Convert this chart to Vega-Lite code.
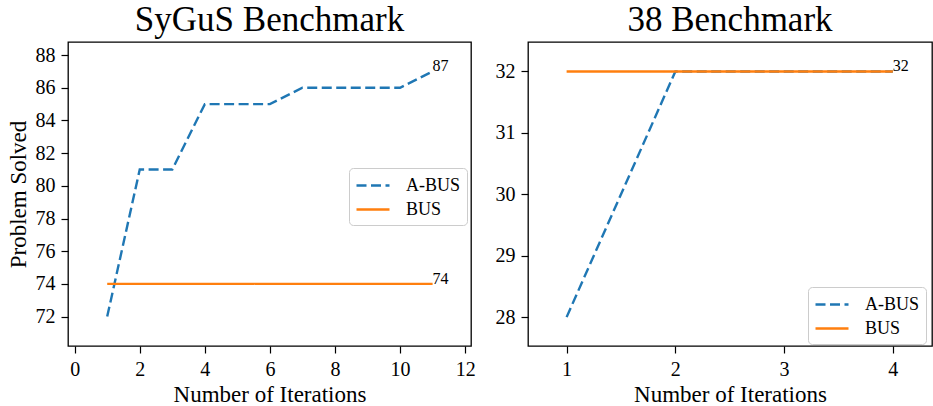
{
  "$schema": "https://vega.github.io/schema/vega-lite/v6.json",
  "padding": {"left": 6, "top": 2, "right": 1, "bottom": 0},
  "datasets": {
    "lines": [
      {"panel": "SyGuS", "method": "A-BUS", "iteration": 1, "solved": 72},
      {"panel": "SyGuS", "method": "A-BUS", "iteration": 2, "solved": 81},
      {"panel": "SyGuS", "method": "A-BUS", "iteration": 3, "solved": 81},
      {"panel": "SyGuS", "method": "A-BUS", "iteration": 4, "solved": 85},
      {"panel": "SyGuS", "method": "A-BUS", "iteration": 5, "solved": 85},
      {"panel": "SyGuS", "method": "A-BUS", "iteration": 6, "solved": 85},
      {"panel": "SyGuS", "method": "A-BUS", "iteration": 7, "solved": 86},
      {"panel": "SyGuS", "method": "A-BUS", "iteration": 8, "solved": 86},
      {"panel": "SyGuS", "method": "A-BUS", "iteration": 9, "solved": 86},
      {"panel": "SyGuS", "method": "A-BUS", "iteration": 10, "solved": 86},
      {"panel": "SyGuS", "method": "A-BUS", "iteration": 11, "solved": 87},
      {"panel": "SyGuS", "method": "BUS", "iteration": 1, "solved": 74},
      {"panel": "SyGuS", "method": "BUS", "iteration": 2, "solved": 74},
      {"panel": "SyGuS", "method": "BUS", "iteration": 3, "solved": 74},
      {"panel": "SyGuS", "method": "BUS", "iteration": 4, "solved": 74},
      {"panel": "SyGuS", "method": "BUS", "iteration": 5, "solved": 74},
      {"panel": "SyGuS", "method": "BUS", "iteration": 6, "solved": 74},
      {"panel": "SyGuS", "method": "BUS", "iteration": 7, "solved": 74},
      {"panel": "SyGuS", "method": "BUS", "iteration": 8, "solved": 74},
      {"panel": "SyGuS", "method": "BUS", "iteration": 9, "solved": 74},
      {"panel": "SyGuS", "method": "BUS", "iteration": 10, "solved": 74},
      {"panel": "SyGuS", "method": "BUS", "iteration": 11, "solved": 74},
      {"panel": "38", "method": "A-BUS", "iteration": 1, "solved": 28},
      {"panel": "38", "method": "A-BUS", "iteration": 2, "solved": 32},
      {"panel": "38", "method": "A-BUS", "iteration": 3, "solved": 32},
      {"panel": "38", "method": "A-BUS", "iteration": 4, "solved": 32},
      {"panel": "38", "method": "BUS", "iteration": 1, "solved": 32},
      {"panel": "38", "method": "BUS", "iteration": 2, "solved": 32},
      {"panel": "38", "method": "BUS", "iteration": 3, "solved": 32},
      {"panel": "38", "method": "BUS", "iteration": 4, "solved": 32}
    ],
    "labels": [
      {"panel": "SyGuS", "iteration": 11, "solved": 87, "label": "87"},
      {"panel": "SyGuS", "iteration": 11, "solved": 74, "label": "74"},
      {"panel": "38", "iteration": 4, "solved": 32, "label": "32"}
    ]
  },
  "config": {
    "font": "Liberation Serif",
    "view": {"stroke": "black", "strokeWidth": 1.3},
    "axis": {
      "grid": false, "domain": false,
      "tickColor": "black", "tickSize": 7, "tickWidth": 1.2,
      "labelFont": "Liberation Serif", "labelFontSize": 20, "labelColor": "black", "labelPadding": 6, "labelOverlap": false, "format": "d",
      "titleFont": "Liberation Serif", "titleFontSize": 23, "titleFontWeight": "normal", "titleColor": "black", "titlePadding": 4
    },
    "title": {"font": "Liberation Serif", "fontSize": 35, "fontWeight": "normal", "color": "black", "anchor": "middle", "frame": "group", "offset": 4},
    "legend": {
      "orient": "none", "strokeColor": "#cccccc", "fillColor": "white", "cornerRadius": 4, "padding": 6,
      "labelFont": "Liberation Serif", "labelFontSize": 18, "labelColor": "black",
      "symbolType": "M-1,0H2.3", "symbolSize": 400, "symbolStrokeWidth": 2.4, "labelOffset": 28, "rowPadding": 3
    }
  },
  "spacing": 18,
  "resolve": {"scale": {"color": "independent", "strokeDash": "independent"}},
  "hconcat": [
    {
      "width": 403, "height": 304,
      "title": "SyGuS Benchmark",
      "layer": [
        {
          "data": {"name": "lines"},
          "transform": [{"filter": "datum.panel === 'SyGuS'"}],
          "mark": {"type": "line", "strokeWidth": 2.4},
          "encoding": {
            "x": {"field": "iteration", "type": "quantitative", "scale": {"domain": [-0.205, 12.18], "nice": false, "zero": false}, "axis": {"values": [0, 2, 4, 6, 8, 10, 12], "title": "Number of Iterations"}},
            "y": {"field": "solved", "type": "quantitative", "scale": {"domain": [70.2, 88.8], "nice": false, "zero": false}, "axis": {"values": [72, 74, 76, 78, 80, 82, 84, 86, 88], "title": "Problem Solved", "titlePadding": 5}},
            "color": {"field": "method", "type": "nominal", "scale": {"domain": ["A-BUS", "BUS"], "range": ["#1f77b4", "#ff7f0e"]}, "legend": {"title": null, "legendX": 281, "legendY": 126}},
            "strokeDash": {"field": "method", "type": "nominal", "scale": {"domain": ["A-BUS", "BUS"], "range": [[10, 4.5], [1, 0]]}, "legend": {"title": null, "legendX": 281, "legendY": 126}}
          }
        },
        {
          "data": {"name": "labels"},
          "transform": [{"filter": "datum.panel === 'SyGuS'"}],
          "mark": {"type": "text", "align": "left", "baseline": "alphabetic", "fontSize": 16, "color": "black"},
          "encoding": {
            "x": {"field": "iteration", "type": "quantitative", "axis": {"values": [0, 2, 4, 6, 8, 10, 12], "title": "Number of Iterations"}},
            "y": {"field": "solved", "type": "quantitative", "axis": {"values": [72, 74, 76, 78, 80, 82, 84, 86, 88], "title": "Problem Solved", "titlePadding": 5}},
            "text": {"field": "label"}
          }
        }
      ]
    },
    {
      "width": 404, "height": 304,
      "title": "38 Benchmark",
      "layer": [
        {
          "data": {"name": "lines"},
          "transform": [{"filter": "datum.panel === '38'"}],
          "mark": {"type": "line", "strokeWidth": 2.4},
          "encoding": {
            "x": {"field": "iteration", "type": "quantitative", "scale": {"domain": [0.645, 4.36], "nice": false, "zero": false}, "axis": {"values": [1, 2, 3, 4], "title": "Number of Iterations"}},
            "y": {"field": "solved", "type": "quantitative", "scale": {"domain": [27.53, 32.48], "nice": false, "zero": false}, "axis": {"values": [28, 29, 30, 31, 32], "title": null}},
            "color": {"field": "method", "type": "nominal", "scale": {"domain": ["A-BUS", "BUS"], "range": ["#1f77b4", "#ff7f0e"]}, "legend": {"title": null, "legendX": 280, "legendY": 245}},
            "strokeDash": {"field": "method", "type": "nominal", "scale": {"domain": ["A-BUS", "BUS"], "range": [[10, 4.5], [1, 0]]}, "legend": {"title": null, "legendX": 280, "legendY": 245}}
          }
        },
        {
          "data": {"name": "labels"},
          "transform": [{"filter": "datum.panel === '38'"}],
          "mark": {"type": "text", "align": "left", "baseline": "alphabetic", "fontSize": 16, "color": "black"},
          "encoding": {
            "x": {"field": "iteration", "type": "quantitative", "axis": {"values": [1, 2, 3, 4], "title": "Number of Iterations"}},
            "y": {"field": "solved", "type": "quantitative", "axis": {"values": [28, 29, 30, 31, 32], "title": null}},
            "text": {"field": "label"}
          }
        }
      ]
    }
  ]
}
